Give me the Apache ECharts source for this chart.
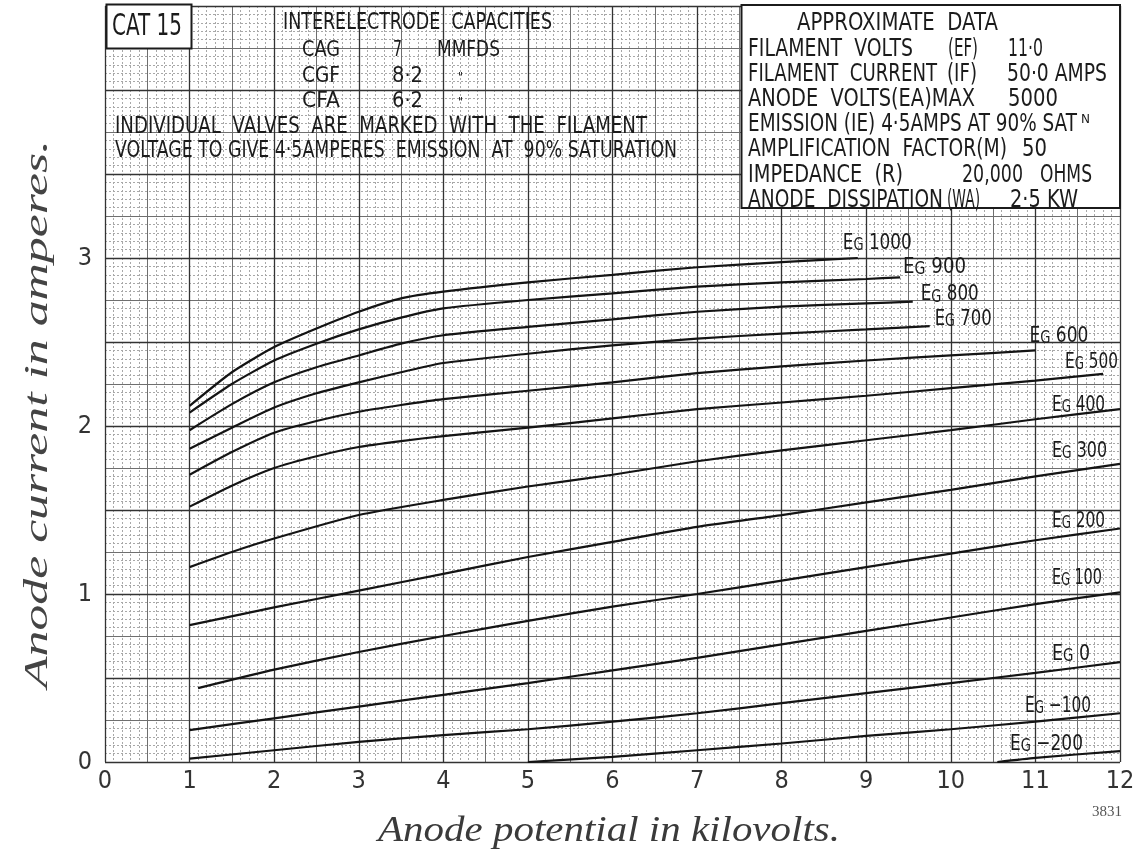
<!DOCTYPE html>
<html>
<head>
<meta charset="utf-8">
<script src="https://cdn.jsdelivr.net/npm/echarts@6/dist/echarts.min.js"></script>
<style>
html,body{margin:0;padding:0;background:#fff;}
#c{width:1144px;height:859px;}
</style>
</head>
<body>
<div id="c"></div>
<script>
// ---------- data ----------
const xTickLabels = ['0','1','2','3','4','5','6','7','8','9','10','11','12'];
const yTickLabels = ['0','1','2','3'];
const curveNames = ['1000','900','800','700','600','500','400','300','200','100','0','\u2212100','\u2212200'];

const eg1000 = [[1,2.12],[1.5,2.32],[2,2.47],[2.5,2.58],[3,2.68],[3.5,2.76],[4,2.80],[5,2.855],[6,2.90],[7,2.945],[8,2.975],[8.9,3.0]];
const eg900  = [[1,2.08],[1.5,2.25],[2,2.39],[2.5,2.49],[3,2.575],[3.5,2.645],[4,2.70],[5,2.75],[6,2.79],[7,2.83],[8,2.855],[9,2.875],[9.4,2.885]];
const eg800  = [[1,1.975],[1.5,2.13],[2,2.26],[2.5,2.35],[3,2.42],[3.5,2.49],[4,2.54],[5,2.59],[6,2.635],[7,2.68],[8,2.71],[9,2.73],[9.55,2.74]];
const eg700  = [[1,1.865],[1.5,1.99],[2,2.11],[2.5,2.195],[3,2.26],[3.5,2.32],[4,2.375],[5,2.43],[6,2.48],[7,2.52],[8,2.55],[9,2.575],[9.75,2.595]];
const eg600  = [[1,1.71],[1.5,1.845],[2,1.96],[2.5,2.03],[3,2.085],[3.5,2.125],[4,2.16],[5,2.21],[6,2.26],[7,2.315],[8,2.355],[9,2.39],[10,2.42],[11,2.45]];
const eg500  = [[1,1.52],[1.5,1.645],[2,1.75],[2.5,1.82],[3,1.875],[3.5,1.91],[4,1.94],[5,1.99],[6,2.045],[7,2.10],[8,2.14],[9,2.18],[10,2.225],[11,2.27],[11.8,2.31]];
const eg400  = [[1,1.16],[1.5,1.25],[2,1.33],[3,1.47],[4,1.56],[5,1.64],[6,1.71],[7,1.79],[8,1.855],[9,1.915],[10,1.975],[11,2.04],[12,2.10]];
const eg300  = [[1,0.815],[2,0.92],[3,1.02],[4,1.12],[5,1.22],[6,1.31],[7,1.40],[8,1.47],[9,1.545],[10,1.62],[11,1.70],[12,1.775]];
const eg200  = [[1.1,0.44],[2,0.55],[3,0.655],[4,0.75],[5,0.84],[6,0.925],[7,1.0],[8,1.08],[9,1.16],[10,1.24],[11,1.32],[12,1.39]];
const eg100  = [[1,0.19],[2,0.26],[3,0.33],[4,0.40],[5,0.47],[6,0.545],[7,0.62],[8,0.70],[9,0.78],[10,0.86],[11,0.94],[12,1.01]];
const eg0    = [[1,0.02],[2,0.07],[3,0.12],[4,0.16],[5,0.195],[6,0.24],[7,0.29],[8,0.35],[9,0.41],[10,0.47],[11,0.53],[12,0.595]];
const egm100 = [[5,0.0],[6,0.03],[7,0.07],[8,0.11],[9,0.155],[10,0.195],[11,0.24],[12,0.29]];
const egm200 = [[10.55,0.0],[11,0.025],[12,0.065]];

const curveData = [eg1000,eg900,eg800,eg700,eg600,eg500,eg400,eg300,eg200,eg100,eg0,egm100,egm200];

// ---------- layout / style ----------
const SANS = "'DejaVu Sans', sans-serif";
const NARROW = "'Liberation Sans Narrow','DejaVu Sans Condensed','DejaVu Sans',sans-serif";
const SERIF = "'Liberation Serif','DejaVu Serif',serif";
const INK = '#1b1b1b';

// label placement relative to each curve's end point: [dx to text left, dy to text centre, text width]
const labelPlace = [[-15,-16,69],[3,-11,63],[8,-8,58],[5,-8,57],[-6,-15,59],[-38,-13,53],[-68,-5,53],
                    [-68,-14,55],[-68,-8,53],[-68,-15,50],[-68,-9,38],[-95,-8,66],[-110,-8,73]];

const chart = echarts.init(document.getElementById('c'), null, {renderer:'canvas', width:1144, height:859});

const hidden = {axisLine:{show:false}, axisTick:{show:false}, axisLabel:{show:false}};

const option = {
  backgroundColor:'#ffffff',
  animation:false,
  grid:{left:105, right:24, top:6, bottom:97, containLabel:false, outerBoundsMode:'none'},
  xAxis:[
    Object.assign({type:'value', min:0, max:12, interval:0.5, position:'bottom', z:0,
      splitLine:{show:true, lineStyle:{color:'#6f6f6f', width:1}},
      minorTick:{show:false, splitNumber:5},
      minorSplitLine:{show:true, lineStyle:{color:'#a8a8a8', width:1, type:[2,2]}}}, hidden),
    {type:'value', min:0, max:12, interval:1, position:'bottom', z:1,
      axisLine:{show:false}, axisTick:{show:false},
      axisLabel:{show:true, margin:7, fontSize:25, color:'#333', fontFamily:NARROW,
        formatter:(v)=>{const i=Math.round(v); return (Math.abs(v-i)<1e-6 && xTickLabels[i]!==undefined)?xTickLabels[i]:'';}},
      splitLine:{show:true, lineStyle:{color:'#333', width:1.3}}}
  ],
  yAxis:[
    Object.assign({type:'value', min:0, max:4.5, interval:0.25, position:'left', z:0,
      splitLine:{show:true, lineStyle:{color:'#6f6f6f', width:1}},
      minorTick:{show:false, splitNumber:5},
      minorSplitLine:{show:true, lineStyle:{color:'#a8a8a8', width:1, type:[2,2]}}}, hidden),
    {type:'value', min:0, max:4.5, interval:0.5, position:'left', z:1,
      axisLine:{show:false}, axisTick:{show:false},
      axisLabel:{show:true, margin:13, fontSize:25, color:'#333', fontFamily:NARROW,
        formatter:(v)=>{const i=Math.round(v); return (Math.abs(v-i)<1e-6 && yTickLabels[i]!==undefined)?yTickLabels[i]:'';}},
      splitLine:{show:true, lineStyle:{color:'#333', width:1.3}}}
  ],
  series: curveData.map((d,i)=>({
    type:'line', name:'EG '+curveNames[i], data:d, xAxisIndex:1, yAxisIndex:1,
    symbol:'none', showSymbol:false, smooth:0.2, silent:true, z:5,
    lineStyle:{color:'#141414', width:2.2}
  }))
};
chart.setOption(option);

// ---------- annotation texts ----------
const mctx = document.createElement('canvas').getContext('2d');
function measure(text, size, family, style){
  mctx.font = (style||'normal') + ' normal ' + size + 'px ' + family;
  return mctx.measureText(text).width;
}
function fitText(text, x1, x2, cy, size, family, extra){
  family = family || SANS;
  const st = (extra && extra.fontStyle) || 'normal';
  const w = measure(text, size, family, st);
  const sx = (x2 - x1) / w;
  return {type:'text', x:x1, y:cy, scaleX:sx, z:30, silent:true,
    style:{text:text, x:0, y:0, fontSize:size, fontFamily:family, fontStyle:st,
      fill:(extra && extra.fill) || INK,
      textAlign:'left', textVerticalAlign:'middle', align:'left', verticalAlign:'middle'}};
}

const headerLayout = [
  ['CAT 15', 112, 182, 27, 30],
  ['INTERELECTRODE  CAPACITIES', 283, 552, 23, 23],
  ['CAG', 302, 340, 50, 22], ['7', 393, 402, 50, 22], ['MMFDS', 437, 500, 50, 22],
  ['CGF', 302, 340, 76, 22], ['8\u00B72', 392, 423, 76, 22], ['"', 458, 463, 78, 13],
  ['CFA', 302, 340, 101, 22], ['6\u00B72', 392, 423, 101, 22], ['"', 458, 463, 103, 13],
  ['INDIVIDUAL  VALVES  ARE  MARKED  WITH  THE  FILAMENT', 115, 647, 127, 23],
  ['VOLTAGE TO GIVE 4\u00B75AMPERES  EMISSION  AT  90% SATURATION', 115, 677, 151, 23],
  ['APPROXIMATE  DATA', 797, 998, 24, 24],
  ['FILAMENT  VOLTS', 748, 913, 50, 24], ['(EF)', 948, 978, 50, 24], ['11\u00B70', 1008, 1043, 50, 24],
  ['FILAMENT  CURRENT', 748, 937, 75, 24], ['(IF)', 947, 977, 75, 24], ['50\u00B70 AMPS', 1007, 1107, 75, 24],
  ['ANODE  VOLTS(EA)MAX', 748, 975, 100, 24], ['5000', 1008, 1058, 100, 24],
  ['EMISSION (IE) 4\u00B75AMPS AT 90% SAT', 748, 1077, 125, 24], ['N', 1081, 1090, 120, 12],
  ['AMPLIFICATION  FACTOR(M)', 748, 1007, 150, 24], ['50', 1022, 1047, 150, 24],
  ['IMPEDANCE  (R)', 748, 903, 176, 24], ['20,000', 962, 1023, 176, 24], ['OHMS', 1040, 1092, 176, 24],
  ['ANODE  DISSIPATION', 748, 943, 201, 24], ['(WA)', 947, 980, 201, 24], ['2\u00B75 KW', 1010, 1078, 201, 24]
];

const graphics = [];
graphics.push({type:'rect', z:20, silent:true, shape:{x:106.5, y:4.5, width:85, height:44},
  style:{fill:'#ffffff', stroke:'#1b1b1b', lineWidth:2}});
graphics.push({type:'rect', z:20, silent:true, shape:{x:741.5, y:5, width:378.5, height:203},
  style:{fill:'#ffffff', stroke:'#1b1b1b', lineWidth:2}});
headerLayout.forEach(h => graphics.push(fitText(h[0], h[1], h[2], h[3], h[4], SANS)));

// axis titles
graphics.push(fitText('Anode potential in kilovolts.', 378, 840, 832, 36, SERIF, {fontStyle:'italic', fill:'#3a3a3a'}));
(function(){
  const t = fitText('Anode current in amperes.', 0, 548, 0, 33, SERIF, {fontStyle:'italic', fill:'#444'});
  t.x = 38; t.y = 688; t.rotation = Math.PI/2;
  graphics.push(t);
})();
graphics.push({type:'text', x:1122, y:812, z:30, silent:true,
  style:{text:'3831', x:0, y:0, fontSize:15, fontFamily:SERIF, fill:'#555',
    textAlign:'right', textVerticalAlign:'middle', align:'right', verticalAlign:'middle'}});

// curve labels, anchored on each curve's last point through the axes
curveData.forEach((d,i)=>{
  const last = d[d.length-1];
  const p = chart.convertToPixel({xAxisIndex:1, yAxisIndex:1}, last);
  const pl = labelPlace[i];
  const num = ' ' + curveNames[i];
  const w = measure('E',22,SANS) + measure('G',17,SANS) + measure(num,22,SANS);
  graphics.push({type:'text', x:p[0]+pl[0], y:p[1]+pl[1], scaleX:pl[2]/w, z:30, silent:true,
    style:{text:'{a|E}{b|G}{a|'+num+'}', x:0, y:0, fill:INK,
      textAlign:'left', textVerticalAlign:'middle', align:'left', verticalAlign:'middle',
      rich:{a:{fontSize:22, fontFamily:SANS, fill:INK, verticalAlign:'bottom', lineHeight:24},
            b:{fontSize:17, fontFamily:SANS, fill:INK, verticalAlign:'bottom', lineHeight:24}}}});
});

chart.setOption({graphic:{elements:graphics}});
</script>
</body>
</html>
